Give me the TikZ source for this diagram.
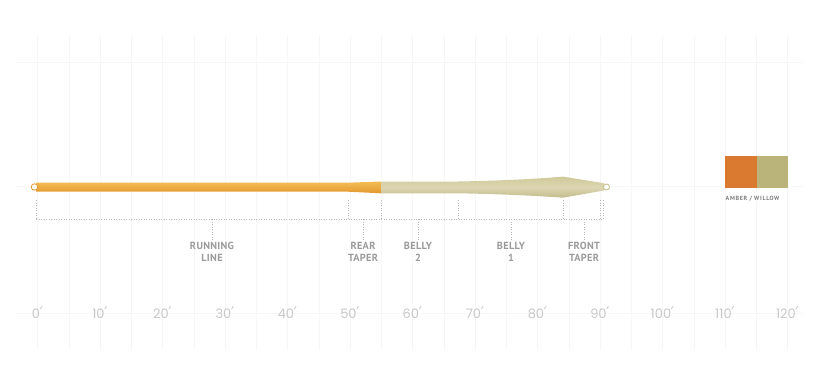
\documentclass[tikz,border=0pt]{standalone}
\usepackage{fontspec}
\setmainfont{Poppins}
\newfontfamily\lblfont[LetterSpace=3]{PT Sans}
\newfontfamily\swfont[LetterSpace=12]{PT Sans}
\newfontfamily\primefont{DejaVu Sans}
\definecolor{gridc}{HTML}{F7F7F7}
\definecolor{dotc}{HTML}{B8B8B8}
\definecolor{lblc}{HTML}{9A9A9A}
\definecolor{swc}{HTML}{7A7A7A}
\definecolor{axc}{HTML}{C8C8C8}
\definecolor{orTop}{HTML}{F4BE55}
\definecolor{orBot}{HTML}{E29830}
\definecolor{khTop}{HTML}{D0C99A}
\definecolor{khMid}{HTML}{DCD6B2}
\definecolor{khBot}{HTML}{C4BC8C}
\definecolor{amber}{HTML}{D97A30}
\definecolor{willow}{HTML}{BBB47A}
\begin{document}
\begin{tikzpicture}[x=1pt,y=-1pt,
  dotline/.style={draw=dotc,line width=0.8pt,dash pattern=on 0.9pt off 1.6pt},
  partlbl/.style={font=\lblfont\bfseries\fontsize{10.3}{12}\selectfont,text=lblc,align=center,anchor=north,inner sep=0pt},
  axlbl/.style={font=\fontsize{13}{14}\selectfont,text=axc,anchor=base,inner sep=0pt}]
\useasboundingbox (0,0) rectangle (822,375);
% faint grid
\foreach \k in {0,...,24} \draw[gridc,line width=0.5pt] ({37.5+31.25*\k},35) -- ({37.5+31.25*\k},350);
\foreach \y in {62,186,313} \draw[gridc,line width=0.5pt] (15,\y) -- (805,\y);
% orange part (running line + rear taper)
\shade[top color=orTop,bottom color=orBot]
  (36,182.7) -- (348,182.7) -- (381,181.5) -- (381,193.3) -- (348,191.7) -- (36,191.7) -- cycle;
% khaki part (bellies + front taper)
\shade[top color=khTop,bottom color=khBot,middle color=khMid]
  (381,181.5) -- (458,181.5) .. controls (510,180.5) and (540,178.5) .. (563,176.6)
  -- (604,183.2) -- (604,190.5) -- (563,197.7) .. controls (540,196) and (500,194) .. (458,193.3)
  -- (381,193.3) -- cycle;
% loops
\node[circle,draw=orBot,fill=white,line width=0.8pt,minimum size=6.5pt,inner sep=0pt] (lloop) at (34.5,187) {};
\node[circle,draw=khBot,fill=white,line width=0.8pt,minimum size=6pt,inner sep=0pt] (rloop) at (606.5,187) {};
% bracket
\foreach \x in {36,348,381,458,563,600,603} \draw[dotline] (\x,200) -- (\x,219);
\draw[dotline] (36,219) -- (603,219);
% part labels
\node[partlbl] (run) at (212,241.5) {RUNNING\\LINE};
\node[partlbl] (rear) at (363,241.5) {REAR\\TAPER};
\node[partlbl] (b2) at (418,241.5) {BELLY\\2};
\node[partlbl] (b1) at (511,241.5) {BELLY\\1};
\node[partlbl] (front) at (584,241.5) {FRONT\\TAPER};
\foreach \n/\x in {run/212,rear/363,b2/418,b1/511,front/584}
  \draw[dotline] (\x,219) -- (\n.north);
% axis
\foreach \v [count=\i from 0] in {0,10,20,30,40,50,60,70,80,90,100,110,120}
  \node[axlbl] (ax\i) at ({37.5+62.5*\i},318) {\v{\primefont\fontsize{16}{16}\selectfont\kern-0.5pt′}};
% swatch
\fill[amber] (725,156) rectangle (757,188);
\fill[willow] (757,156) rectangle (788,188);
\node[font=\swfont\bfseries\fontsize{6}{7}\selectfont,text=swc,inner sep=0pt,anchor=base west] (sw) at (725.5,200.5) {AMBER / WILLOW};
\end{tikzpicture}
\end{document}
